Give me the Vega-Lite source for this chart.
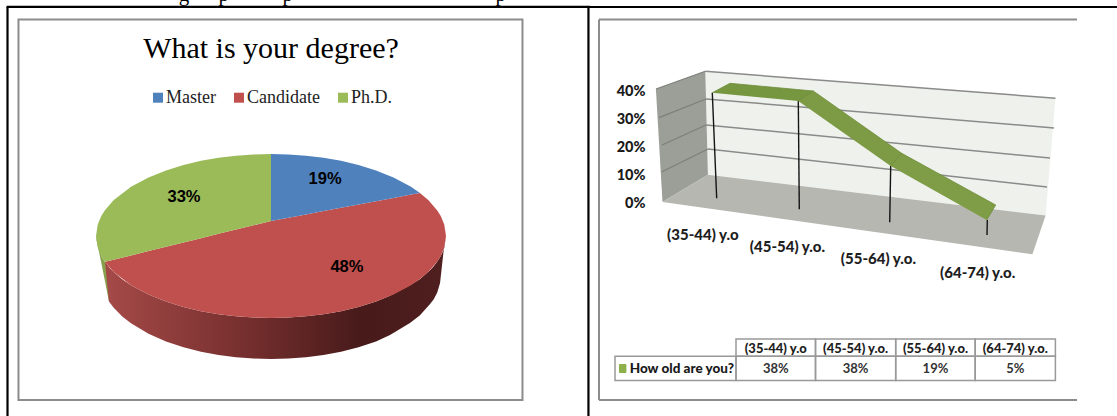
{
"$schema":"https://vega.github.io/schema/vega-lite/v6.json",
"padding":0,"spacing":0,"bounds":"flush","background":"white",
"config":{"view":{"stroke":null}},
"datasets":{
"degreeShares":[
{"slice":"Master","share":0.19,"x":30.9,"y":69.5},
{"slice":"Candidate","share":0.48,"x":43.4,"y":-37.8},
{"slice":"Ph.D.","share":0.33,"x":-49.7,"y":47.6}],
"pieFaces":[
{"slice":"Candidate","x":-94.9,"y":-31.5,"y2":-31.5},{"slice":"Candidate","x":-90,"y":-28.9,"y2":-43.6},{"slice":"Candidate","x":-80,"y":-23.7,"y2":-60},{"slice":"Candidate","x":-70,"y":-18.4,"y2":-71.4},{"slice":"Candidate","x":-60,"y":-13.2,"y2":-80},{"slice":"Candidate","x":-50,"y":-7.9,"y2":-86.6},{"slice":"Candidate","x":-40,"y":-2.7,"y2":-91.7},{"slice":"Candidate","x":-30,"y":2.6,"y2":-95.4},{"slice":"Candidate","x":-20,"y":7.8,"y2":-98},{"slice":"Candidate","x":-10,"y":13,"y2":-99.5},{"slice":"Candidate","x":0,"y":18.3,"y2":-100},{"slice":"Candidate","x":10,"y":22.3,"y2":-99.5},{"slice":"Candidate","x":20,"y":26.3,"y2":-98},{"slice":"Candidate","x":30,"y":30.4,"y2":-95.4},{"slice":"Candidate","x":40,"y":34.4,"y2":-91.7},{"slice":"Candidate","x":50,"y":38.4,"y2":-86.6},{"slice":"Candidate","x":60,"y":42.4,"y2":-80},{"slice":"Candidate","x":70,"y":46.4,"y2":-71.4},{"slice":"Candidate","x":80,"y":50.5,"y2":-60},{"slice":"Candidate","x":85.1,"y":52.5,"y2":-52.5},{"slice":"Candidate","x":90,"y":43.6,"y2":-43.6},{"slice":"Candidate","x":95,"y":31.2,"y2":-31.2},{"slice":"Candidate","x":97,"y":24.3,"y2":-24.3},{"slice":"Candidate","x":99,"y":14.1,"y2":-14.1},{"slice":"Candidate","x":100,"y":0,"y2":0},
{"slice":"Ph.D.","x":-100,"y":0,"y2":0},{"slice":"Ph.D.","x":-99,"y":14.1,"y2":-14.1},{"slice":"Ph.D.","x":-97,"y":24.3,"y2":-24.3},{"slice":"Ph.D.","x":-94.9,"y":31.5,"y2":-31.5},{"slice":"Ph.D.","x":-90,"y":43.6,"y2":-28.9},{"slice":"Ph.D.","x":-80,"y":60,"y2":-23.7},{"slice":"Ph.D.","x":-70,"y":71.4,"y2":-18.4},{"slice":"Ph.D.","x":-60,"y":80,"y2":-13.2},{"slice":"Ph.D.","x":-50,"y":86.6,"y2":-7.9},{"slice":"Ph.D.","x":-40,"y":91.7,"y2":-2.7},{"slice":"Ph.D.","x":-30,"y":95.4,"y2":2.6},{"slice":"Ph.D.","x":-20,"y":98,"y2":7.8},{"slice":"Ph.D.","x":-10,"y":99.5,"y2":13},{"slice":"Ph.D.","x":0,"y":100,"y2":18.3},
{"slice":"Master","x":0,"y":100,"y2":18.3},{"slice":"Master","x":10,"y":99.5,"y2":22.3},{"slice":"Master","x":20,"y":98,"y2":26.3},{"slice":"Master","x":30,"y":95.4,"y2":30.4},{"slice":"Master","x":40,"y":91.7,"y2":34.4},{"slice":"Master","x":50,"y":86.6,"y2":38.4},{"slice":"Master","x":60,"y":80,"y2":42.4},{"slice":"Master","x":70,"y":71.4,"y2":46.4},{"slice":"Master","x":80,"y":60,"y2":50.5},{"slice":"Master","x":85.1,"y":52.5,"y2":52.5}],
"candidateSide":[
{"x":-94.9,"y":-31.5,"y2":-31.5},{"x":-92.6,"y":-37.8,"y2":-79.8},{"x":-90,"y":-43.6,"y2":-87.3},{"x":-85,"y":-52.7,"y2":-98.2},{"x":-80,"y":-60,"y2":-106.5},{"x":-70,"y":-71.4,"y2":-119.2},{"x":-60,"y":-80,"y2":-128.6},{"x":-50,"y":-86.6,"y2":-135.7},{"x":-40,"y":-91.7,"y2":-141.1},{"x":-30,"y":-95.4,"y2":-145.1},{"x":-20,"y":-98,"y2":-147.9},{"x":-10,"y":-99.5,"y2":-149.5},{"x":0,"y":-100,"y2":-150},{"x":10,"y":-99.5,"y2":-149.5},{"x":20,"y":-98,"y2":-147.9},{"x":30,"y":-95.4,"y2":-145.1},{"x":40,"y":-91.7,"y2":-141.1},{"x":50,"y":-86.6,"y2":-135.7},{"x":60,"y":-80,"y2":-128.6},{"x":68,"y":-73,"y2":-120.7},{"x":79.4,"y":-60,"y2":-106},{"x":85,"y":-52.7,"y2":-97},{"x":90.9,"y":-41.7,"y2":-83},{"x":93,"y":-36.8,"y2":-77},{"x":95,"y":-31.2,"y2":-69},{"x":96.6,"y":-25.9,"y2":-57.3},{"x":97.6,"y":-21.8,"y2":-38},{"x":98.5,"y":-17.3,"y2":-20.7},{"x":100,"y":0,"y2":0}],
"phdSide":[{"x":-100,"y":0,"y2":-2},{"x":-97,"y":-24.3,"y2":-32.5},{"x":-94.9,"y":-31.5,"y2":-55},{"x":-92.6,"y":-37.8,"y2":-79.8}],
"leftBorders":[
{"x":-150.57,"y":279.3,"x2":-150.57,"y2":-219.51},{"x":181.4,"y":279.3,"x2":181.4,"y2":-219.51},{"x":-151.1,"y":279.3,"x2":182.29,"y2":279.3}],
"clippedLine":[{"t":"g","x":-49.7,"y":286.6},{"t":"p","x":-27,"y":286.6},{"t":"p","x":9.6,"y":286.6},{"t":"p","x":131.3,"y":286.6}],
"ages":[
{"age":"(35-44) y.o","share":0.38,"x":112.9,"y":-11.43,"cx":185.75},
{"age":"(45-54) y.o.","share":0.38,"x":197.4,"y":-15.71,"cx":265.6},
{"age":"(55-64) y.o.","share":0.19,"x":288.4,"y":-20,"cx":345.45},
{"age":"(64-74) y.o.","share":0.05,"x":387.7,"y":-25,"cx":425.3}],
"planes":[
{"part":"wall","n":1,"x":115.3,"y":47.04},{"part":"wall","n":2,"x":465.5,"y":37.43},{"part":"wall","n":3,"x":455.6,"y":-4.46},{"part":"wall","n":4,"x":117.9,"y":10.07},
{"part":"side","n":1,"x":65.9,"y":40.71},{"part":"side","n":2,"x":115.3,"y":47.04},{"part":"side","n":3,"x":117.9,"y":10.07},{"part":"side","n":4,"x":72.5,"y":0.39},
{"part":"floor","n":1,"x":72.5,"y":0.39},{"part":"floor","n":2,"x":117.9,"y":10.07},{"part":"floor","n":3,"x":455.6,"y":-4.46},{"part":"floor","n":4,"x":442.4,"y":-18.29}],
"ribbon":[
{"part":"a","n":1,"x":122.3,"y":39.39},{"part":"a","n":2,"x":140,"y":42.75},{"part":"a","n":3,"x":223.3,"y":40},{"part":"a","n":4,"x":208.3,"y":36.43},
{"part":"b","n":1,"x":208.3,"y":36.43},{"part":"b","n":2,"x":223.3,"y":40},{"part":"b","n":3,"x":311.7,"y":17.75},{"part":"b","n":4,"x":300.7,"y":13.21},
{"part":"c","n":1,"x":300.7,"y":13.21},{"part":"c","n":2,"x":311.7,"y":17.75},{"part":"c","n":3,"x":405.7,"y":-0.71},{"part":"c","n":4,"x":396.7,"y":-6.07}],
"backGrid":[
{"x":115.3,"y":47.04,"x2":465.5,"y2":37.43},{"x":116,"y":37.14,"x2":464,"y2":26.8},{"x":116,"y":27.86,"x2":460,"y2":16.07},{"x":118,"y":19.29,"x2":457,"y2":5.71}],
"sideGrid":[
{"x":66,"y":40.71,"x2":115.3,"y2":47.04},{"x":69,"y":30.5,"x2":116,"y2":37.14},{"x":72,"y":20.71,"x2":116,"y2":27.86},{"x":71.5,"y":11.07,"x2":118,"y2":19.29}],
"drops":[
{"x":122.3,"y":39.39,"x2":126.7,"y2":1.68},{"x":208.3,"y":36.43,"x2":209.3,"y2":-2.25},{"x":300.7,"y":13.21,"x2":299.7,"y2":-6.89},{"x":397.3,"y":-6.07,"x2":397,"y2":-11.43}],
"rightFrame":[
{"x":9,"y":65.54,"x2":487,"y2":65.54},{"x":9,"y":65.54,"x2":9,"y2":-70.36},{"x":9,"y":-70.36,"x2":487,"y2":-70.36}],
"tableCells":[
{"x":146,"x2":225.5,"y":-48.57,"y2":-54.75},{"x":225.5,"x2":305.7,"y":-48.57,"y2":-54.75},{"x":305.7,"x2":385.2,"y":-48.57,"y2":-54.75},{"x":385.2,"x2":465.4,"y":-48.57,"y2":-54.75},
{"x":25,"x2":146,"y":-54.75,"y2":-63.36},{"x":146,"x2":225.5,"y":-54.75,"y2":-63.36},{"x":225.5,"x2":305.7,"y":-54.75,"y2":-63.36},{"x":305.7,"x2":385.2,"y":-54.75,"y2":-63.36},{"x":385.2,"x2":465.4,"y":-54.75,"y2":-63.36}]
},
"hconcat":[
{"width":590,"height":416,
"encoding":{
"x":{"field":"x","type":"quantitative","axis":null,"scale":{"domain":[-154.857,182.286],"nice":false,"zero":false}},
"y":{"field":"y","type":"quantitative","axis":null,"stack":null,"scale":{"domain":[-219.51,287.8],"nice":false,"zero":false}}},
"layer":[
{"data":{"name":"clippedLine"},"mark":{"type":"text","clip":true,"font":"Liberation Serif","fontSize":21,"baseline":"alphabetic","color":"#000"},"encoding":{"text":{"field":"t"}}},
{"data":{"values":[{"x":-144.3,"x2":143.7,"y":264,"y2":-200}]},"mark":{"type":"rect","fillOpacity":0,"stroke":"#8c8c8c","strokeWidth":2},"encoding":{"x2":{"field":"x2"},"y2":{"field":"y2"}}},
{"data":{"name":"leftBorders"},"mark":{"type":"rule","color":"#000","strokeWidth":2.2},"encoding":{"x2":{"field":"x2"},"y2":{"field":"y2"}}},
{"data":{"name":"phdSide"},"mark":{"type":"area","color":"#86a24c"},"encoding":{"y2":{"field":"y2"}}},
{"data":{"name":"candidateSide"},"mark":{"type":"area","fill":{"gradient":"linear","x1":0,"y1":0,"x2":1,"y2":0,"stops":[{"offset":0,"color":"#a54a48"},{"offset":0.4,"color":"#77302f"},{"offset":0.75,"color":"#481a1a"},{"offset":1,"color":"#501f1f"}]}},"encoding":{"y2":{"field":"y2"}}},
{"data":{"name":"pieFaces"},"mark":{"type":"area"},
"encoding":{"y2":{"field":"y2"},"color":{"field":"slice","type":"nominal",
"scale":{"domain":["Master","Candidate","Ph.D."],"range":["#4f81bd","#c0504d","#9bbb59"]},
"legend":{"orient":"none","legendX":149,"legendY":88.7,"direction":"horizontal","columns":3,"title":null,"symbolType":"square","symbolSize":100,"symbolStrokeWidth":0,"labelFont":"Liberation Serif","labelFontSize":18,"labelColor":"#222","columnPadding":14,"labelOffset":-1}}}},
{"data":{"name":"degreeShares"},"mark":{"type":"text","font":"Liberation Sans","fontWeight":"bold","fontSize":16.5,"color":"#000"},"encoding":{"text":{"field":"share","type":"quantitative","format":".0%"}}},
{"data":{"values":[{"x":0,"y":217,"t":"What is your degree?"}]},"mark":{"type":"text","font":"Liberation Serif","fontSize":30,"baseline":"alphabetic","color":"#000"},"encoding":{"text":{"field":"t"}}}
]},
{"width":527,"height":416,
"encoding":{
"x":{"field":"x","type":"quantitative","axis":null,"scale":{"domain":[0,527],"nice":false,"zero":false}},
"y":{"field":"y","type":"quantitative","stack":null,"scale":{"domain":[-76.07,72.5],"nice":false,"zero":false},
"axis":{"values":[0,10,20,30,40],"labelExpr":"datum.value + '%'","orient":"left","offset":-58,"domain":false,"ticks":false,"grid":false,"title":null,"labelFont":"Lato","labelFontWeight":900,"labelFontSize":14.5,"labelColor":"#1a1a1a","labelPadding":3}}},
"layer":[
{"data":{"values":[{"x":0,"y":70,"x2":527,"y2":70}]},"mark":{"type":"rule","color":"#000","strokeWidth":2.2},"encoding":{"x2":{"field":"x2"},"y2":{"field":"y2"}}},
{"data":{"name":"rightFrame"},"mark":{"type":"rule","color":"#8c8c8c","strokeWidth":2},"encoding":{"x2":{"field":"x2"},"y2":{"field":"y2"}}},
{"data":{"name":"planes"},"mark":{"type":"line","strokeWidth":0},
"encoding":{"order":{"field":"n"},"detail":{"field":"part"},"fill":{"field":"part","type":"nominal","legend":null,"scale":{"domain":["wall","side","floor","a","b","c"],"range":["#eff2ec","#9c9e98","#b5b7b0","#769640","#7d9b45","#7f9d46"]}}}},
{"data":{"name":"sideGrid"},"mark":{"type":"rule","color":"#7e7f7a","strokeWidth":1.2},"encoding":{"x2":{"field":"x2"},"y2":{"field":"y2"}}},
{"data":{"name":"backGrid"},"mark":{"type":"rule","color":"#8a8a8a","strokeWidth":1.5},"encoding":{"x2":{"field":"x2"},"y2":{"field":"y2"}}},
{"data":{"name":"drops"},"mark":{"type":"rule","color":"#151515","strokeWidth":1.4},"encoding":{"x2":{"field":"x2"},"y2":{"field":"y2"}}},
{"data":{"name":"ribbon"},"mark":{"type":"line","stroke":"#6f8c3b","strokeWidth":0.8},
"encoding":{"order":{"field":"n"},"detail":{"field":"part"},"fill":{"field":"part","type":"nominal","legend":null,"scale":{"domain":["wall","side","floor","a","b","c"],"range":["#eff2ec","#9c9e98","#b5b7b0","#769640","#7d9b45","#7f9d46"]}}}},
{"data":{"name":"ages"},"mark":{"type":"text","font":"Lato","fontWeight":900,"fontSize":15,"color":"#1e1e1e"},"encoding":{"text":{"field":"age"}}},
{"data":{"name":"tableCells"},"mark":{"type":"rect","fillOpacity":0,"stroke":"#999999","strokeWidth":1.5},"encoding":{"x2":{"field":"x2"},"y2":{"field":"y2"}}},
{"data":{"name":"ages"},"mark":{"type":"text","font":"Lato","fontWeight":900,"fontSize":13,"color":"#1e1e1e"},"encoding":{"x":{"field":"cx","type":"quantitative"},"y":{"datum":-52.14},"text":{"field":"age"}}},
{"data":{"name":"ages"},"mark":{"type":"text","font":"Lato","fontWeight":"bold","fontSize":13,"color":"#333"},"encoding":{"x":{"field":"cx","type":"quantitative"},"y":{"datum":-59.29},"text":{"field":"share","type":"quantitative","format":".0%"}}},
{"data":{"values":[{"x":29,"x2":36.4,"y":-57.5,"y2":-60.71}]},"mark":{"type":"rect","color":"#8db04a","cornerRadius":1},"encoding":{"x2":{"field":"x2"},"y2":{"field":"y2"}}},
{"data":{"values":[{"x":39.7,"y":-59.29,"t":"How old are you?"}]},"mark":{"type":"text","align":"left","font":"Lato","fontWeight":900,"fontSize":13.5,"color":"#1a1a1a"},"encoding":{"text":{"field":"t"}}}
]}
]}
